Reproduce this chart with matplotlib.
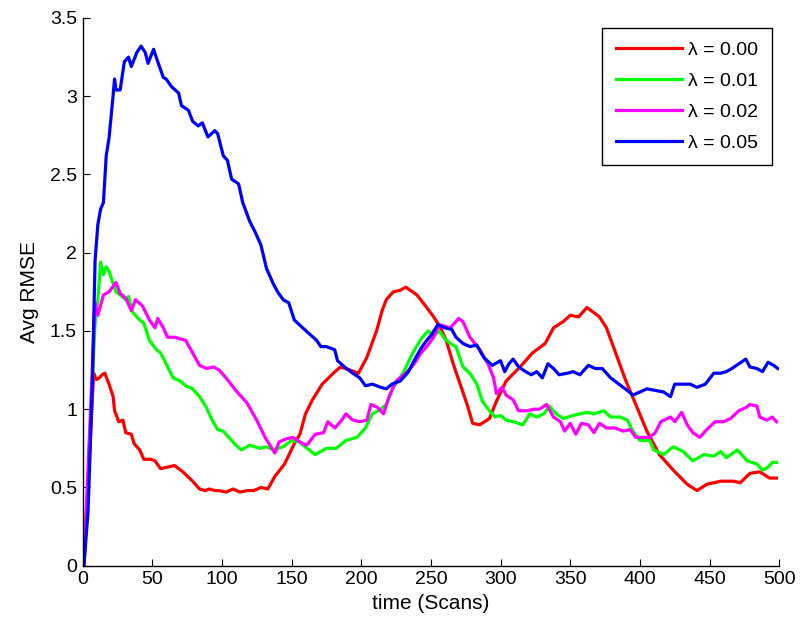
import matplotlib
matplotlib.use("Agg")
import matplotlib.pyplot as plt
from matplotlib.ticker import FuncFormatter

plt.rcParams['font.family'] = ['Liberation Sans', 'DejaVu Sans']

# data (scan index, avg RMSE)
t_l000 = [1, 8, 10, 12, 14, 16, 19, 22, 23, 26,
          29, 31, 35, 37, 41, 44, 49, 52, 56, 61,
          66, 72, 79, 84, 88, 91, 95, 98, 103, 108,
          113, 118, 123, 128, 133, 138, 145, 152, 156, 160,
          165, 172, 180, 185, 192, 198, 204, 211, 215, 218,
          223, 228, 232, 240, 247, 252, 257, 261, 266, 271,
          276, 280, 285, 292, 297, 304, 314, 323, 332, 338,
          345, 350, 356, 362, 371, 376, 383, 390, 398, 405,
          414, 424, 434, 441, 448, 458, 467, 472, 479, 486,
          493, 498]
r_l000 = [0, 1.23, 1.19, 1.20, 1.22, 1.23, 1.16, 1.08, 0.99, 0.92,
          0.93, 0.85, 0.84, 0.78, 0.74, 0.68, 0.68, 0.67, 0.62, 0.63,
          0.64, 0.60, 0.54, 0.49, 0.48, 0.49, 0.48, 0.48, 0.47, 0.49,
          0.47, 0.48, 0.48, 0.50, 0.49, 0.57, 0.65, 0.78, 0.84, 0.97,
          1.06, 1.16, 1.23, 1.27, 1.25, 1.23, 1.33, 1.50, 1.63, 1.70,
          1.75, 1.76, 1.78, 1.73, 1.65, 1.59, 1.52, 1.44, 1.29, 1.16,
          1.03, 0.91, 0.90, 0.94, 1.05, 1.18, 1.27, 1.36, 1.42, 1.52,
          1.56, 1.60, 1.59, 1.65, 1.59, 1.52, 1.35, 1.18, 1.01, 0.86,
          0.71, 0.61, 0.52, 0.48, 0.52, 0.54, 0.54, 0.53, 0.59, 0.60,
          0.56, 0.56]

t_l001 = [1, 9, 11, 13, 15, 17, 19, 22, 24, 27,
          31, 33, 36, 41, 44, 48, 53, 56, 60, 65,
          70, 74, 79, 84, 89, 93, 97, 101, 105, 110,
          114, 120, 127, 132, 137, 144, 150, 156, 161, 167,
          175, 182, 189, 197, 203, 208, 214, 218, 223, 230,
          237, 243, 248, 252, 256, 260, 264, 268, 273, 278,
          283, 287, 292, 296, 300, 304, 309, 316, 321, 326,
          331, 335, 340, 345, 352, 362, 367, 374, 379, 386,
          391, 395, 400, 407, 410, 417, 424, 431, 438, 446,
          453, 458, 462, 470, 477, 484, 488, 492, 495, 498]
r_l001 = [0, 1.55, 1.70, 1.94, 1.86, 1.91, 1.88, 1.80, 1.75, 1.73,
          1.70, 1.72, 1.62, 1.57, 1.55, 1.44, 1.38, 1.36, 1.29, 1.20,
          1.18, 1.15, 1.13, 1.08, 1.01, 0.93, 0.87, 0.86, 0.82, 0.77,
          0.74, 0.77, 0.75, 0.76, 0.74, 0.76, 0.80, 0.79, 0.75, 0.71,
          0.75, 0.75, 0.80, 0.82, 0.88, 0.97, 1.00, 1.03, 1.14, 1.23,
          1.36, 1.45, 1.50, 1.47, 1.50, 1.45, 1.42, 1.40, 1.27, 1.23,
          1.16, 1.05, 0.99, 0.95, 0.96, 0.93, 0.92, 0.90, 0.97, 0.95,
          0.97, 1.02, 0.97, 0.94, 0.96, 0.98, 0.97, 0.99, 0.95, 0.95,
          0.93, 0.86, 0.80, 0.80, 0.74, 0.71, 0.76, 0.73, 0.67, 0.71,
          0.70, 0.73, 0.69, 0.74, 0.67, 0.65, 0.61, 0.63, 0.66, 0.66]

t_l002 = [1, 9, 11, 15, 19, 24, 27, 31, 35, 38,
          43, 48, 52, 54, 58, 61, 66, 70, 74, 79,
          84, 89, 94, 98, 103, 110, 118, 125, 131, 138,
          141, 146, 151, 156, 161, 167, 173, 176, 181, 186,
          189, 194, 199, 204, 207, 212, 216, 220, 225, 232,
          238, 243, 247, 252, 256, 264, 270, 273, 278, 285,
          291, 295, 297, 301, 304, 309, 313, 319, 324, 328,
          333, 338, 343, 346, 350, 354, 358, 363, 367, 371,
          376, 382, 388, 393, 397, 400, 407, 411, 415, 422,
          425, 430, 434, 438, 443, 448, 454, 460, 465, 471,
          476, 479, 484, 486, 491, 495, 498]
r_l002 = [0, 1.68, 1.60, 1.73, 1.75, 1.81, 1.74, 1.71, 1.63, 1.70,
          1.66, 1.57, 1.52, 1.58, 1.52, 1.46, 1.46, 1.45, 1.44, 1.36,
          1.28, 1.26, 1.27, 1.25, 1.20, 1.12, 1.04, 0.93, 0.82, 0.72,
          0.79, 0.81, 0.82, 0.79, 0.77, 0.84, 0.85, 0.92, 0.88, 0.93,
          0.97, 0.93, 0.92, 0.93, 1.03, 1.01, 0.97, 1.08, 1.18, 1.23,
          1.29, 1.36, 1.40, 1.46, 1.54, 1.52, 1.58, 1.56, 1.46, 1.38,
          1.29, 1.20, 1.10, 1.14, 1.09, 1.06, 0.99, 0.99, 1.00, 1.00,
          1.03, 0.95, 0.92, 0.86, 0.91, 0.84, 0.91, 0.90, 0.85, 0.91,
          0.88, 0.88, 0.86, 0.87, 0.82, 0.82, 0.82, 0.85, 0.92, 0.95,
          0.92, 0.98, 0.90, 0.85, 0.82, 0.87, 0.92, 0.92, 0.94, 0.99,
          1.01, 1.03, 1.02, 0.95, 0.93, 0.95, 0.92]

t_l005 = [1, 4, 7, 9, 11, 13, 15, 17, 19, 22,
          23, 24, 27, 30, 33, 35, 39, 42, 45, 47,
          51, 54, 58, 60, 64, 69, 71, 76, 79, 83,
          86, 90, 95, 97, 101, 104, 107, 112, 115, 120,
          124, 128, 132, 137, 140, 144, 148, 152, 158, 163,
          168, 171, 175, 181, 183, 188, 194, 199, 203, 208,
          214, 218, 222, 228, 234, 238, 243, 247, 250, 255,
          260, 265, 268, 273, 278, 283, 288, 294, 300, 303,
          306, 309, 313, 318, 322, 326, 330, 334, 338, 342,
          348, 352, 357, 363, 368, 373, 379, 385, 391, 395,
          400, 405, 411, 417, 422, 425, 430, 436, 441, 447,
          453, 458, 462, 466, 471, 476, 479, 484, 488, 492,
          496, 499]
r_l005 = [0, 0.35, 1.15, 1.95, 2.18, 2.28, 2.32, 2.62, 2.73, 3.01,
          3.11, 3.04, 3.04, 3.22, 3.25, 3.19, 3.28, 3.32, 3.28, 3.21,
          3.30, 3.22, 3.12, 3.11, 3.06, 3.02, 2.94, 2.91, 2.84, 2.81,
          2.83, 2.74, 2.78, 2.76, 2.62, 2.59, 2.47, 2.44, 2.32, 2.20,
          2.13, 2.05, 1.90, 1.80, 1.75, 1.70, 1.68, 1.57, 1.52, 1.48,
          1.44, 1.40, 1.40, 1.38, 1.31, 1.27, 1.23, 1.20, 1.15, 1.16,
          1.14, 1.13, 1.16, 1.18, 1.24, 1.31, 1.39, 1.44, 1.47, 1.54,
          1.52, 1.51, 1.46, 1.42, 1.40, 1.41, 1.33, 1.28, 1.31, 1.24,
          1.29, 1.32, 1.27, 1.24, 1.22, 1.24, 1.20, 1.29, 1.26, 1.22,
          1.23, 1.24, 1.22, 1.28, 1.26, 1.26, 1.20, 1.16, 1.12, 1.09,
          1.11, 1.13, 1.12, 1.11, 1.08, 1.16, 1.16, 1.16, 1.14, 1.16,
          1.23, 1.23, 1.24, 1.26, 1.29, 1.32, 1.27, 1.26, 1.24, 1.30,
          1.28, 1.26]

labels = [u'\u03bb = 0.00', u'\u03bb = 0.01', u'\u03bb = 0.02', u'\u03bb = 0.05']
colors = ['#ff0000', '#00ff00', '#ff00ff', '#0000ff']

fig = plt.figure(figsize=(8.02, 6.31), dpi=100)
ax = fig.add_axes([0.1029, 0.1035, 0.8687, 0.8680])

series = [(t_l000, r_l000), (t_l001, r_l001), (t_l002, r_l002), (t_l005, r_l005)]
for (t, r), c, lab in zip(series, colors, labels):
    ax.plot(t, r, color=c, lw=2.3, label=lab)

ax.set_xlim(0, 500)
ax.set_ylim(0, 3.5)
ax.set_xticks(range(0, 501, 50))
ax.set_yticks([0, 0.5, 1, 1.5, 2, 2.5, 3, 3.5])
ax.yaxis.set_major_formatter(FuncFormatter(lambda v, p: '%g' % v))
ax.tick_params(direction='in', length=5, width=0.8, labelsize=14, pad=4)
for s in ['top', 'right']:
    ax.spines[s].set_visible(False)
for s in ['left', 'bottom']:
    ax.spines[s].set_linewidth(1.0)

ax.set_xlabel('time (Scans)', fontsize=15, labelpad=4)
ax.set_ylabel('Avg RMSE', fontsize=15, labelpad=8)

leg = ax.legend(loc='upper right', bbox_to_anchor=(0.989, 0.982), borderaxespad=0,
                fontsize=14, handlelength=3.4, labelspacing=0.68, handletextpad=0.3,
                borderpad=0.7, fancybox=False, framealpha=1)
leg.get_frame().set_edgecolor('black')
leg.get_frame().set_linewidth(1.0)

fig.savefig('out.png', dpi=100)
